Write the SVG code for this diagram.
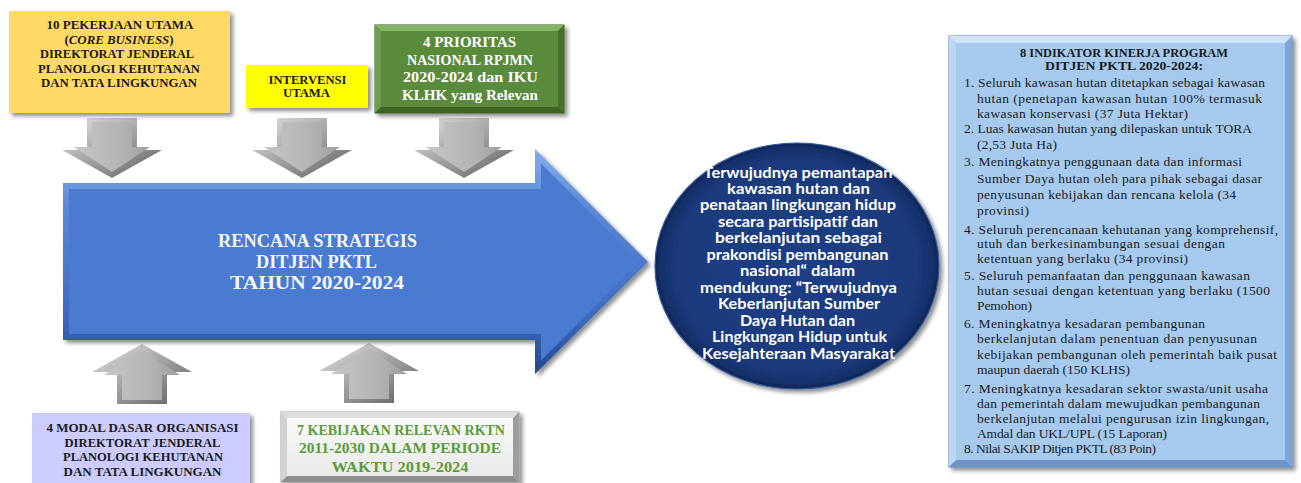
<svg xmlns="http://www.w3.org/2000/svg" width="1301" height="483" viewBox="0 0 1301 483">
  <defs>
    <filter id="shadow" x="-10%" y="-10%" width="125%" height="135%">
      <feDropShadow dx="3" dy="3" stdDeviation="2.2" flood-color="#000" flood-opacity="0.45"/>
    </filter>
    <linearGradient id="gArwEdge" x1="0" y1="0" x2="1" y2="1">
      <stop offset="0" stop-color="#e6e6e6"/>
      <stop offset="0.45" stop-color="#a8a8a8"/>
      <stop offset="1" stop-color="#5e5e5e"/>
    </linearGradient>
    <linearGradient id="gArwFace" x1="0" y1="0" x2="1" y2="0">
      <stop offset="0" stop-color="#c6c6c6"/>
      <stop offset="0.6" stop-color="#b4b4b4"/>
      <stop offset="1" stop-color="#9e9e9e"/>
    </linearGradient>
    <linearGradient id="gBlueEdge" x1="0" y1="0" x2="0" y2="1">
      <stop offset="0" stop-color="#86acec"/>
      <stop offset="0.25" stop-color="#5b8ad8"/>
      <stop offset="0.75" stop-color="#3d6ac0"/>
      <stop offset="1" stop-color="#24478f"/>
    </linearGradient>
    <radialGradient id="gCircle" cx="0.5" cy="0.5" r="0.5">
      <stop offset="0" stop-color="#1f3f86"/>
      <stop offset="0.85" stop-color="#1c3a7c"/>
      <stop offset="0.96" stop-color="#15306a"/>
      <stop offset="1" stop-color="#0e2455"/>
    </radialGradient>
    <linearGradient id="gGrey" x1="0" y1="0" x2="0" y2="1">
      <stop offset="0" stop-color="#fbfbfb"/>
      <stop offset="1" stop-color="#e7e7e7"/>
    </linearGradient>
  </defs>
  <style>
    .sb { font-family: "Liberation Serif", "DejaVu Serif", serif; font-weight: bold; text-anchor: middle; }
    .dark { fill: #1b1b1b; }
    .white { fill: #ffffff; }
    .green-t { fill: #5a9c3a; }
    .ct { font-family: Lato, "Liberation Sans", sans-serif; font-weight: bold; font-size: 15px; fill: #ffffff; text-anchor: middle; }
    .li { font-family: "Liberation Serif", "DejaVu Serif", serif; font-size: 13.5px; fill: #1b1b1b; }
    .arw-edge { fill: url(#gArwEdge); }
    .arw-face { fill: url(#gArwFace); }
  </style>

  <!-- connectors: grey block arrows feeding the main arrow -->
  <g id="connectors">
    <g transform="translate(112,178)">
      <path class="arw-edge" d="M-25,-60H25V-28H50L0,0L-50,-28H-25Z"/>
      <path class="arw-face" d="M-20,-56H20V-31H38L0,-6L-38,-31H-20Z"/>
    </g>
    <g transform="translate(302,178)">
      <path class="arw-edge" d="M-25,-60H25V-28H50L0,0L-50,-28H-25Z"/>
      <path class="arw-face" d="M-20,-56H20V-31H38L0,-6L-38,-31H-20Z"/>
    </g>
    <g transform="translate(464,178)">
      <path class="arw-edge" d="M-25,-60H25V-28H50L0,0L-50,-28H-25Z"/>
      <path class="arw-face" d="M-20,-56H20V-31H38L0,-6L-38,-31H-20Z"/>
    </g>
    <g transform="translate(142,344)">
      <path class="arw-edge" d="M-25,60H25V28H50L0,0L-50,28H-25Z"/>
      <path class="arw-face" d="M-20,56H20V31H38L0,6L-38,31H-20Z"/>
    </g>
    <g transform="translate(369,343)">
      <path class="arw-edge" d="M-25,60H25V28H50L0,0L-50,28H-25Z"/>
      <path class="arw-face" d="M-20,56H20V31H38L0,6L-38,31H-20Z"/>
    </g>
  </g>

  <!-- top inputs -->
  <g id="node-core-business">
    <rect x="9" y="11" width="221" height="102" fill="#ffd966" filter="url(#shadow)"/>
    <text class="sb dark" font-size="12.5" x="120" y="29.3" textLength="147" lengthAdjust="spacingAndGlyphs">10 PEKERJAAN UTAMA</text>
    <text class="sb dark" font-size="12.5" x="119" y="43.9" textLength="109" lengthAdjust="spacingAndGlyphs">(<tspan font-style="italic">CORE BUSINESS</tspan>)</text>
    <text class="sb dark" font-size="12.5" x="117" y="58.4" textLength="154" lengthAdjust="spacingAndGlyphs">DIREKTORAT JENDERAL</text>
    <text class="sb dark" font-size="12.5" x="119" y="72.8" textLength="162" lengthAdjust="spacingAndGlyphs">PLANOLOGI  KEHUTANAN</text>
    <text class="sb dark" font-size="12.5" x="119" y="87.2" textLength="156" lengthAdjust="spacingAndGlyphs">DAN TATA LINGKUNGAN</text>
  </g>

  <g id="node-intervensi">
    <rect x="246" y="65" width="122" height="43" fill="#ffff00" filter="url(#shadow)"/>
    <text class="sb dark" font-size="13.5" x="307.5" y="84" textLength="78" lengthAdjust="spacingAndGlyphs">INTERVENSI</text>
    <text class="sb dark" font-size="13.5" x="306.5" y="97.3" textLength="47" lengthAdjust="spacingAndGlyphs">UTAMA</text>
  </g>

  <g id="node-prioritas">
    <rect x="375" y="25" width="189" height="88" fill="#5a8a3a" stroke="#3b5e25" stroke-width="1" filter="url(#shadow)"/>
    <polygon points="375,25 564,25 558,31 381,31" fill="#86b466"/>
    <polygon points="375,25 381,31 381,107 375,113" fill="#6f9d4f"/>
    <polygon points="564,25 564,113 558,107 558,31" fill="#46702b"/>
    <polygon points="375,113 564,113 558,107 381,107" fill="#3d6424"/>
    <text class="sb white" font-size="15.5" x="469.5" y="47.3" textLength="93" lengthAdjust="spacingAndGlyphs">4 PRIORITAS</text>
    <text class="sb white" font-size="15.5" x="470" y="64.5" textLength="126" lengthAdjust="spacingAndGlyphs">NASIONAL RPJMN</text>
    <text class="sb white" font-size="15.5" x="470.5" y="82" textLength="135" lengthAdjust="spacingAndGlyphs">2020-2024 dan IKU</text>
    <text class="sb white" font-size="15.5" x="470" y="99.5" textLength="136" lengthAdjust="spacingAndGlyphs">KLHK yang Relevan</text>
  </g>

  <!-- main strategic plan arrow -->
  <g id="node-renstra">
    <path d="M63,183H535V149L648,262L535,374V340H63Z" fill="url(#gBlueEdge)" filter="url(#shadow)"/>
    <path d="M69,189H541V163.5L639.5,262L541,360.5V334H69Z" fill="#4a7bd0"/>
    <text class="sb" font-size="19" fill="#f4f6fb" x="317.5" y="247" textLength="199" lengthAdjust="spacingAndGlyphs">RENCANA STRATEGIS</text>
    <text class="sb" font-size="19" fill="#f4f6fb" x="316.5" y="268" textLength="121" lengthAdjust="spacingAndGlyphs">DITJEN PKTL</text>
    <text class="sb" font-size="19" fill="#f4f6fb" x="317" y="289" textLength="174" lengthAdjust="spacingAndGlyphs">TAHUN 2020-2024</text>
  </g>

  <!-- goal circle -->
  <g id="node-tujuan">
    <ellipse cx="797" cy="266" rx="142" ry="123" fill="url(#gCircle)" stroke="#34579e" stroke-width="1.2" filter="url(#shadow)"/>
    <text class="ct" x="798" y="177.5" textLength="189" lengthAdjust="spacingAndGlyphs">Terwujudnya pemantapan</text>
    <text class="ct" x="798.5" y="194" textLength="143" lengthAdjust="spacingAndGlyphs">kawasan hutan dan</text>
    <text class="ct" x="798" y="210.4" textLength="196" lengthAdjust="spacingAndGlyphs">penataan lingkungan hidup</text>
    <text class="ct" x="798" y="226.9" textLength="160" lengthAdjust="spacingAndGlyphs">secara partisipatif dan</text>
    <text class="ct" x="798.5" y="243.3" textLength="167" lengthAdjust="spacingAndGlyphs">berkelanjutan sebagai</text>
    <text class="ct" x="797.5" y="259.8" textLength="182" lengthAdjust="spacingAndGlyphs">prakondisi pembangunan</text>
    <text class="ct" x="797.5" y="276.2" textLength="115" lengthAdjust="spacingAndGlyphs">nasional“ dalam</text>
    <text class="ct" x="798.5" y="292.7" textLength="197" lengthAdjust="spacingAndGlyphs">mendukung: “Terwujudnya</text>
    <text class="ct" x="799" y="309.1" textLength="162" lengthAdjust="spacingAndGlyphs">Keberlanjutan Sumber</text>
    <text class="ct" x="797.5" y="325.6" textLength="115" lengthAdjust="spacingAndGlyphs">Daya Hutan dan</text>
    <text class="ct" x="799.5" y="342" textLength="175" lengthAdjust="spacingAndGlyphs">Lingkungan Hidup untuk</text>
    <text class="ct" x="798.5" y="358.5" textLength="193" lengthAdjust="spacingAndGlyphs">Kesejahteraan Masyarakat</text>
  </g>

  <!-- performance indicator panel -->
  <g id="node-indikator">
    <rect x="949" y="36" width="343" height="431" fill="#a6caee" stroke="#5b85b8" stroke-width="1" filter="url(#shadow)"/>
    <polygon points="949,36 1292,36 1285,43 956,43" fill="#d2e4f8"/>
    <polygon points="949,36 956,43 956,460 949,467" fill="#bdd6f2"/>
    <polygon points="1292,36 1292,467 1285,460 1285,43" fill="#7da6d6"/>
    <polygon points="949,467 1292,467 1285,460 956,460" fill="#6c95c6"/>
    <text class="sb dark" font-size="12" x="1124" y="56.5" textLength="208" lengthAdjust="spacingAndGlyphs">8 INDIKATOR KINERJA PROGRAM</text>
    <text class="sb dark" font-size="12" x="1124" y="69.5" textLength="158" lengthAdjust="spacingAndGlyphs">DITJEN PKTL 2020-2024:</text>
    <text class="li" x="964" y="87.3" textLength="301">1. Seluruh kawasan hutan ditetapkan sebagai kawasan</text>
    <text class="li" x="977" y="102.7" textLength="285">hutan (penetapan kawasan hutan 100% termasuk</text>
    <text class="li" x="977" y="117.7" textLength="211">kawasan konservasi (37 Juta Hektar)</text>
    <text class="li" x="964" y="133.3" textLength="288">2. Luas kawasan hutan yang dilepaskan untuk TORA</text>
    <text class="li" x="977" y="149.3" textLength="80">(2,53 Juta Ha)</text>
    <text class="li" x="964" y="166" textLength="278">3. Meningkatnya penggunaan data dan informasi</text>
    <text class="li" x="977" y="182.7" textLength="285">Sumber Daya hutan oleh para pihak sebagai dasar</text>
    <text class="li" x="977" y="199.3" textLength="259">penyusunan kebijakan dan rencana kelola (34</text>
    <text class="li" x="977" y="215" textLength="52">provinsi)</text>
    <text class="li" x="964" y="234" textLength="314">4. Seluruh perencanaan kehutanan yang komprehensif,</text>
    <text class="li" x="977" y="248.3" textLength="248">utuh dan berkesinambungan sesuai dengan</text>
    <text class="li" x="977" y="263.3" textLength="211">ketentuan yang berlaku (34 provinsi)</text>
    <text class="li" x="964" y="280" textLength="286">5. Seluruh pemanfaatan dan penggunaan kawasan</text>
    <text class="li" x="977" y="295" textLength="293">hutan sesuai dengan ketentuan yang berlaku (1500</text>
    <text class="li" x="977" y="310" textLength="55">Pemohon)</text>
    <text class="li" x="964" y="328.3" textLength="241">6. Meningkatnya kesadaran pembangunan</text>
    <text class="li" x="977" y="343.3" textLength="280">berkelanjutan dalam penentuan dan penyusunan</text>
    <text class="li" x="977" y="359.3" textLength="300">kebijakan pembangunan oleh pemerintah baik pusat</text>
    <text class="li" x="977" y="374" textLength="153">maupun daerah (150 KLHS)</text>
    <text class="li" x="964" y="392.7" textLength="304">7. Meningkatnya kesadaran sektor swasta/unit usaha</text>
    <text class="li" x="977" y="407.7" textLength="283">dan pemerintah dalam mewujudkan pembangunan</text>
    <text class="li" x="977" y="422.7" textLength="292">berkelanjutan melalui pengurusan izin lingkungan,</text>
    <text class="li" x="977" y="437.7" textLength="190">Amdal dan UKL/UPL (15 Laporan)</text>
    <text class="li" x="964" y="452.7" textLength="192">8. Nilai SAKIP Ditjen PKTL (83 Poin)</text>
  </g>

  <!-- bottom inputs -->
  <g id="node-modal-dasar">
    <rect x="32" y="413" width="218" height="76" fill="#ccccff" filter="url(#shadow)"/>
    <text class="sb dark" font-size="13" x="142.5" y="431.7" textLength="192" lengthAdjust="spacingAndGlyphs">4 MODAL DASAR ORGANISASI</text>
    <text class="sb dark" font-size="13" x="142.5" y="446.7" textLength="156" lengthAdjust="spacingAndGlyphs">DIREKTORAT JENDERAL</text>
    <text class="sb dark" font-size="13" x="143" y="461" textLength="160" lengthAdjust="spacingAndGlyphs">PLANOLOGI  KEHUTANAN</text>
    <text class="sb dark" font-size="13" x="142.5" y="475.7" textLength="158" lengthAdjust="spacingAndGlyphs">DAN TATA LINGKUNGAN</text>
  </g>

  <g id="node-kebijakan-rktn">
    <rect x="281" y="412" width="238" height="70" fill="url(#gGrey)" stroke="#a3a3a3" stroke-width="1" filter="url(#shadow)"/>
    <polygon points="281,412 519,412 513,418 287,418" fill="#dedede"/>
    <polygon points="281,412 287,418 287,476 281,482" fill="#d2d2d2"/>
    <polygon points="519,412 519,482 513,476 513,418" fill="#9d9d9d"/>
    <polygon points="281,482 519,482 513,476 287,476" fill="#8e8e8e"/>
    <text class="sb green-t" font-size="15" x="401" y="435" textLength="208" lengthAdjust="spacingAndGlyphs">7 KEBIJAKAN RELEVAN RKTN</text>
    <text class="sb green-t" font-size="15" x="400" y="453.3" textLength="202" lengthAdjust="spacingAndGlyphs">2011-2030 DALAM PERIODE</text>
    <text class="sb green-t" font-size="15" x="400" y="471.7" textLength="137" lengthAdjust="spacingAndGlyphs">WAKTU 2019-2024</text>
  </g>
</svg>
